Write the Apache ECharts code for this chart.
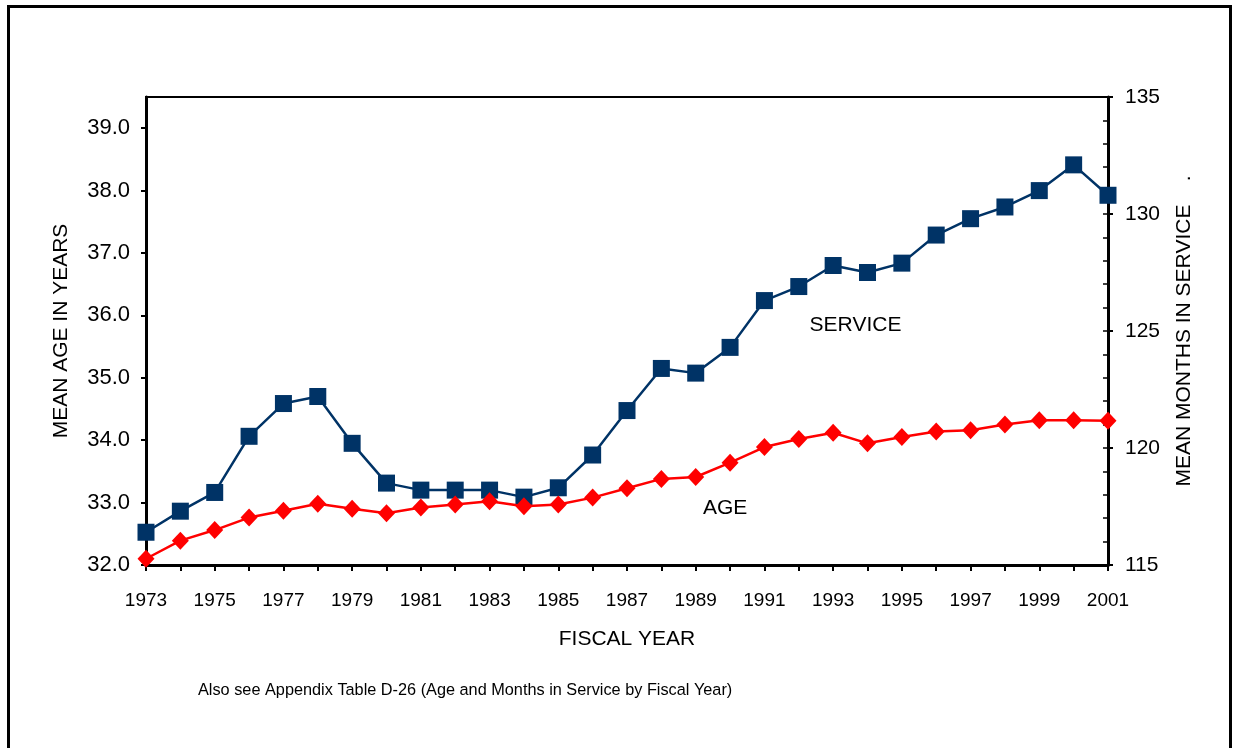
<!DOCTYPE html>
<html>
<head>
<meta charset="utf-8">
<script src="https://cdn.jsdelivr.net/npm/echarts@6/dist/echarts.min.js"></script>
<style>html,body{margin:0;padding:0;background:#fff;}#c{width:1235px;height:748px;}</style>
</head>
<body>
<div id="c"></div>
<script>
const years = ['1973','1974','1975','1976','1977','1978','1979','1980','1981','1982','1983','1984','1985','1986','1987','1988','1989','1990','1991','1992','1993','1994','1995','1996','1997','1998','1999','2000','2001'];
const ageValues = [32.10,32.39,32.56,32.76,32.87,32.98,32.90,32.83,32.92,32.97,33.02,32.94,32.97,33.08,33.23,33.38,33.41,33.64,33.89,34.02,34.12,33.95,34.05,34.14,34.16,34.25,34.32,34.32,34.31];
const serviceValues = [116.4,117.3,118.1,120.5,121.9,122.2,120.2,118.5,118.2,118.2,118.2,117.9,118.3,119.7,121.6,123.4,123.2,124.3,126.3,126.9,127.8,127.5,127.9,129.1,129.8,130.3,131.0,132.1,130.8];
const seriesLabels = {service: 'SERVICE', age: 'AGE'};
const labelAnchors = {service: ['1994', 125.25], age: ['1990', 32.93]};
const axisTitles = {left: 'MEAN AGE IN YEARS', right: 'MEAN MONTHS IN SERVICE    .', bottom: 'FISCAL YEAR'};
const footnote = 'Also see Appendix Table D-26 (Age and Months in Service by Fiscal Year)';

const font = 'Arial, "Liberation Sans", sans-serif';
const chart = echarts.init(document.getElementById('c'), null, {renderer: 'canvas'});
chart.setOption({
  animation: false,
  backgroundColor: '#fff',
  grid: {left: 146, right: 127, top: 97, bottom: 183, show: true, borderColor: '#000', borderWidth: 2, backgroundColor: 'transparent'},
  graphic: [
    {type: 'rect', left: 6, top: 4, shape: {width: 1222, height: 800}, style: {fill: 'none', stroke: '#000', lineWidth: 3}, silent: true},
    {type: 'text', left: 198, top: 683, style: {text: footnote, font: '16.3px ' + font, fill: '#000'}}
  ],
  xAxis: {
    type: 'category', data: years, boundaryGap: false,
    name: axisTitles.bottom, nameLocation: 'middle', nameGap: 64,
    nameTextStyle: {fontFamily: font, fontSize: 21, color: '#000'},
    axisLine: {lineStyle: {color: '#000', width: 3}},
    axisTick: {show: true, interval: 0, length: 6, lineStyle: {color: '#000', width: 2}},
    axisLabel: {interval: 1, margin: 26, fontFamily: font, fontSize: 19, color: '#000'},
    splitLine: {show: false}
  },
  yAxis: [
    {
      type: 'value', position: 'left', min: 32, max: 39.5, interval: 1,
      name: axisTitles.left, nameLocation: 'middle', nameGap: 74, nameRotate: 90,
      nameTextStyle: {fontFamily: font, fontSize: 21, color: '#000'},
      axisLine: {show: true, lineStyle: {color: '#000', width: 3}},
      axisTick: {show: true, length: 5, lineStyle: {color: '#000', width: 2}},
      axisLabel: {showMaxLabel: false, margin: 16, fontFamily: font, fontSize: 22, color: '#000', formatter: v => v.toFixed(1)},
      splitLine: {show: false}
    },
    {
      type: 'value', position: 'right', min: 115, max: 135, interval: 5,
      name: axisTitles.right, nameLocation: 'middle', nameGap: 66, nameRotate: 90,
      nameTextStyle: {fontFamily: font, fontSize: 21, color: '#000'},
      axisLine: {show: true, lineStyle: {color: '#000', width: 3}},
      axisTick: {show: true, length: 5, lineStyle: {color: '#000', width: 2}},
      axisLabel: {margin: 17, fontFamily: font, fontSize: 21, color: '#000'},
      splitLine: {show: false}
    },
    {
      type: 'value', position: 'right', min: 115, max: 135, interval: 1,
      axisLine: {show: false},
      axisTick: {show: true, inside: true, length: 5, lineStyle: {color: '#000', width: 1.5}},
      axisLabel: {show: false},
      splitLine: {show: false}
    }
  ],
  series: [
    {
      name: 'SERVICE', type: 'line', yAxisIndex: 1, data: serviceValues,
      symbol: 'rect', symbolSize: 17,
      lineStyle: {color: '#003366', width: 2.5},
      itemStyle: {color: '#003366'},
      z: 3,
      markPoint: {symbol: 'circle', symbolSize: 0, data: [{coord: labelAnchors.service, value: seriesLabels.service}],
        label: {show: true, position: 'inside', offset: [-12, 0], formatter: seriesLabels.service, fontFamily: font, fontSize: 21, color: '#000'}}
    },
    {
      name: 'AGE', type: 'line', yAxisIndex: 0, data: ageValues,
      symbol: 'diamond', symbolSize: [17, 18],
      lineStyle: {color: '#ff0000', width: 2.5},
      itemStyle: {color: '#ff0000'},
      z: 4,
      markPoint: {symbol: 'circle', symbolSize: 0, data: [{coord: labelAnchors.age, value: seriesLabels.age}],
        label: {show: true, position: 'inside', offset: [-5, 1], formatter: seriesLabels.age, fontFamily: font, fontSize: 21, color: '#000'}}
    }
  ]
});
</script>
</body>
</html>
